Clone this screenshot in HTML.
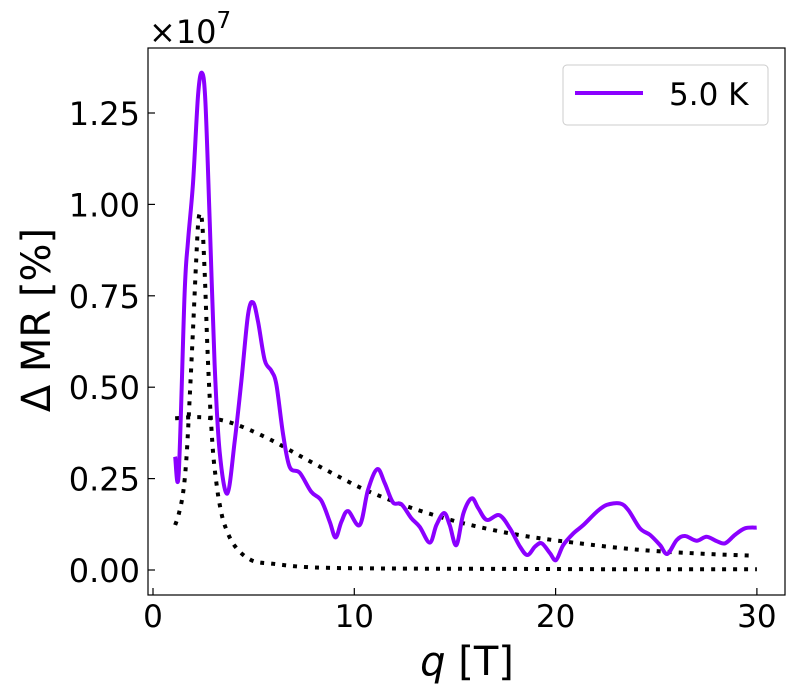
<!DOCTYPE html>
<html><head><meta charset="utf-8"><style>
body{margin:0;background:#fff}
svg text{font-family:"DejaVu Sans","Liberation Sans",sans-serif;fill:#000}
</style></head><body>
<svg id="c" width="800" height="700" style="position:absolute;left:0;top:0" xmlns="http://www.w3.org/2000/svg">
<rect x="0" y="0" width="800" height="700" fill="#fff"/>
<g id="plot"></g>
<g id="axes"></g>
</svg>
<script>
const mainX=[1.1,1.28,1.57,1.74,1.99,2.24,2.43,2.6,2.82,3.06,3.31,3.69,4.06,4.39,4.72,4.97,5.22,5.55,5.88,6.13,6.46,6.79,7.29,7.86,8.36,8.78,9.07,9.36,9.69,10.27,10.68,11.14,11.51,11.92,12.34,12.83,13.25,13.75,14.08,14.46,14.74,15.07,15.42,15.83,16.16,16.58,17.2,17.73,18.23,18.6,18.98,19.31,19.72,20.02,20.38,20.88,21.38,22.04,22.54,23.2,23.61,24.19,24.69,25.19,25.55,26.02,26.43,27.0,27.5,28.0,28.42,28.91,29.41,29.99];
const mainY=[0.31,0.266,0.756,0.9,1.06,1.3,1.36,1.284,0.95,0.564,0.324,0.209,0.353,0.517,0.698,0.732,0.679,0.574,0.545,0.507,0.372,0.282,0.266,0.214,0.19,0.132,0.089,0.132,0.161,0.123,0.219,0.276,0.238,0.185,0.18,0.142,0.118,0.075,0.123,0.156,0.123,0.068,0.155,0.196,0.169,0.137,0.15,0.114,0.064,0.041,0.064,0.073,0.046,0.027,0.068,0.1,0.123,0.159,0.178,0.182,0.164,0.114,0.096,0.068,0.044,0.082,0.093,0.08,0.091,0.079,0.073,0.096,0.114,0.116];
const peakX=[1.1,1.27,1.49,1.66,1.82,1.99,2.15,2.27,2.43,2.57,2.7,2.82,2.98,3.15,3.31,3.56,4.06,4.88,5.96,8.0,12,18,24,30];
const peakY=[0.123,0.151,0.209,0.305,0.468,0.66,0.852,0.963,0.957,0.81,0.612,0.468,0.324,0.238,0.18,0.123,0.066,0.027,0.017,0.007,0.004,0.003,0.002,0.002];
const bgX=[1.1,2.3,3.39,4.47,5.96,7.37,8.86,10.35,11.84,13.33,15.48,18.15,20.88,24.19,27.5,29.9];
const bgY=[0.415,0.418,0.41,0.391,0.353,0.31,0.266,0.224,0.19,0.161,0.127,0.096,0.075,0.055,0.044,0.039];
const xTicks=[0,10,20,30];
const yTicks=[0,0.25,0.5,0.75,1.0,1.25];
const yTickLabels=["0.00","0.25","0.50","0.75","1.00","1.25"];

const L=148,T=48,R=785,B=595;
const sx=v=>153+v*20.13;
const sy=v=>570-v*365.6;
const NS="http://www.w3.org/2000/svg";
const plot=document.getElementById('plot'),axes=document.getElementById('axes');
function mk(tag,attrs,parent){const e=document.createElementNS(NS,tag);for(const k in attrs)e.setAttribute(k,attrs[k]);parent.appendChild(e);return e;}
function smooth(xs,ys){const p=xs.map((x,i)=>[sx(x),sy(ys[i])]);let d=`M${p[0][0]},${p[0][1]}`;
for(let i=0;i<p.length-1;i++){const p0=p[Math.max(0,i-1)],p1=p[i],p2=p[i+1],p3=p[Math.min(p.length-1,i+2)];
const c1=[p1[0]+(p2[0]-p0[0])/6,p1[1]+(p2[1]-p0[1])/6],c2=[p2[0]-(p3[0]-p1[0])/6,p2[1]-(p3[1]-p1[1])/6];
d+=`C${c1[0]},${c1[1]} ${c2[0]},${c2[1]} ${p2[0]},${p2[1]}`;}return d;}
let e;
e=mk('path',{d:smooth(bgX,bgY),fill:'none',stroke:'#000','stroke-width':4,'stroke-dasharray':'4 7'},plot);


e=mk('path',{d:smooth(peakX,peakY),fill:'none',stroke:'#000','stroke-width':4,'stroke-dasharray':'4 7'},plot);


e=mk('path',{d:smooth(mainX,mainY),fill:'none',stroke:'#8b00ff','stroke-width':4,'stroke-linejoin':'round'},plot);



e=mk('rect',{x:L,y:T,width:R-L,height:B-T,fill:'none',stroke:'#000','stroke-width':1.2},axes);


xTicks.forEach(v=>{const x=sx(v);
e=mk('line',{x1:x,x2:x,y1:B,y2:B-7,stroke:'#000','stroke-width':1.2},axes);


e=mk('text',{x:x,y:627,'font-size':31,'text-anchor':'middle'},axes);e.textContent=v;

});
yTicks.forEach((v,i)=>{const y=sy(v);
e=mk('line',{x1:L,x2:L+7,y1:y,y2:y,stroke:'#000','stroke-width':1.2},axes);


e=mk('text',{x:140,y:y+12,'font-size':32,'text-anchor':'end'},axes);e.textContent=yTickLabels[i];

});
</script>
<svg style="position:absolute;left:0;top:0" width="800" height="700" xmlns="http://www.w3.org/2000/svg">
<text x="149" y="43" font-size="32">×10<tspan dy="-15" font-size="23">7</tspan></text>
<text transform="translate(50,320) rotate(-90)" font-size="40" text-anchor="middle">Δ MR [%]</text>
<text x="467" y="675" font-size="40" text-anchor="middle"><tspan font-style="italic">q</tspan> [T]</text>
<g>
<rect x="563" y="65" width="205" height="60" rx="4" fill="#fff" stroke="#ccc" stroke-width="1"/>
<line x1="575" y1="93" x2="643" y2="93" stroke="#8b00ff" stroke-width="4"/>
<text x="669" y="105" font-size="31">5.0 K</text>
</g>
</svg>
</body></html>
